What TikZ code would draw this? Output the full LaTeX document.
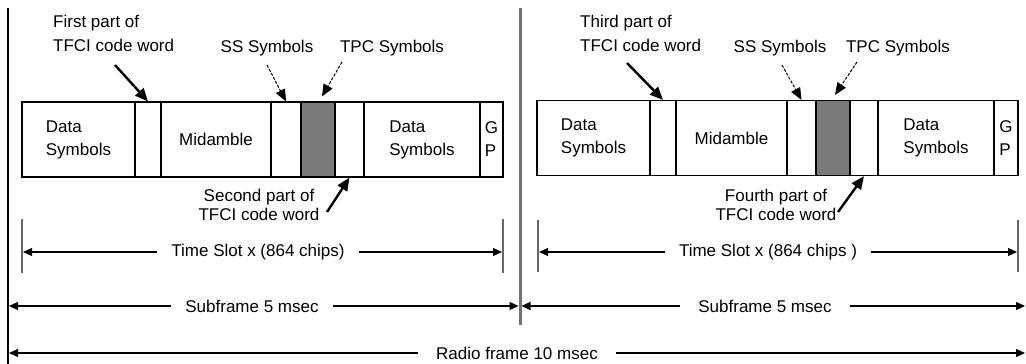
\documentclass[tikz,border=0pt]{standalone}
\usepackage{fontspec}
\setmainfont{Liberation Sans}
\usetikzlibrary{arrows.meta}
\begin{document}
\begin{tikzpicture}[x=1pt,y=-1pt,
  lbl/.style={font=\fontsize{17}{22}\selectfont, inner sep=0pt, align=left},
  cell/.style={draw, line width=1.2pt, inner sep=0pt, align=left,
    font=\fontsize{17}{23}\selectfont, minimum height=75pt},
  shade/.style={fill=black!52},
  bigarrow/.style={line width=2.4pt, -{Triangle[length=13pt,width=11pt]}},
  dasharrow/.style={line width=1pt, dash pattern=on 3pt off 1.5pt, -{Triangle[length=12pt,width=10pt]}},
  dimarrow/.style={line width=1.2pt, -{Triangle[length=9pt,width=8pt]}},
  tickline/.style={draw=black!60, line width=2pt},
  onlbl/.style={lbl, inner xsep=14pt}]
\useasboundingbox (0,0) rectangle (1026,364);

% frame boundary lines
\draw[line width=1.5pt] (8,8) -- (8,364);
\draw[draw=black!55, line width=3pt] (520,8) -- (520,325);

% ---------- left slot ----------
\node[cell, minimum width=113pt] (L1) at (78.5,139.5) {Data\\Symbols};
\node[cell, minimum width=26pt]  (L2) at (148,139.5) {};
\node[cell, minimum width=110pt] (L3) at (216,139.5) {Midamble};
\node[cell, minimum width=30pt]  (L4) at (286,139.5) {};
\node[cell, shade, minimum width=34pt] (L5) at (318,139.5) {};
\node[cell, minimum width=29pt]  (L6) at (349.5,139.5) {};
\node[cell, minimum width=116pt] (L7) at (422,139.5) {Data\\Symbols};
\node[cell, minimum width=23pt]  (L8) at (491.5,139.5) {G\\P};

\node[lbl, font=\fontsize{17}{24}\selectfont, anchor=west] (tfA) at (53,33) {First part of\\TFCI code word};
\node[lbl] (ssA) at (267,48) {SS Symbols};
\node[lbl] (tpcA) at (392,48) {TPC Symbols};
\node[lbl, align=center, font=\fontsize{17}{19}\selectfont] (tfB) at (259,205) {Second part of\\TFCI code word};

\coordinate (tfAs) at (115,65);
\coordinate (ssAs) at (267,65);
\coordinate (tpcAs) at (342,62);
\coordinate (tfBs) at (327,212);
\draw[bigarrow] (tfAs) -- (L2.north);
\draw[dasharrow] (ssAs) -- (L4.north);
\draw[dasharrow] (tpcAs) -- ([xshift=4pt,yshift=5pt]L5.north);
\draw[bigarrow] (tfBs) -- (L6.south);

% time slot left
\draw[tickline] (22,219) -- (22,273);
\draw[tickline] (503,219) -- (503,273);
\coordinate (tsAl) at (23,252);
\coordinate (tsAr) at (502,252);
\node[onlbl] (tsA) at (258,252) {Time Slot x (864 chips)};
\draw[dimarrow] (tsA) -- (tsAl);
\draw[dimarrow] (tsA) -- (tsAr);

% ---------- right slot ----------
\node[cell, minimum width=113pt] (R1) at (593.5,138) {Data\\Symbols};
\node[cell, minimum width=26pt]  (R2) at (663,138) {};
\node[cell, minimum width=111pt] (R3) at (731.5,138) {Midamble};
\node[cell, minimum width=29pt]  (R4) at (801.5,138) {};
\node[cell, shade, minimum width=34pt] (R5) at (833,138) {};
\node[cell, minimum width=28pt]  (R6) at (864,138) {};
\node[cell, minimum width=116pt] (R7) at (936,138) {Data\\Symbols};
\node[cell, minimum width=24pt]  (R8) at (1006,138) {G\\P};

\node[lbl, font=\fontsize{17}{24}\selectfont, anchor=west] (tfC) at (580,33) {Third part of\\TFCI code word};
\node[lbl] (ssC) at (780,48) {SS Symbols};
\node[lbl] (tpcC) at (898,48) {TPC Symbols};
\node[lbl, align=center, font=\fontsize{17}{19}\selectfont] (tfD) at (776,205) {Fourth part of\\TFCI code word};

\coordinate (tfCs) at (627,63);
\coordinate (ssCs) at (782,65);
\coordinate (tpcCs) at (857,62);
\coordinate (tfDs) at (838,212);
\draw[bigarrow] (tfCs) -- (R2.north);
\draw[dasharrow] (ssCs) -- (R4.north);
\draw[dasharrow] (tpcCs) -- ([xshift=2pt,yshift=5pt]R5.north);
\draw[bigarrow] (tfDs) -- (R6.south);

% time slot right
\draw[tickline] (538,220) -- (538,272);
\draw[tickline] (1018,220) -- (1018,272);
\coordinate (tsCl) at (539,252);
\coordinate (tsCr) at (1017,252);
\node[onlbl] (tsC) at (768,252) {Time Slot x (864 chips )};
\draw[dimarrow] (tsC) -- (tsCl);
\draw[dimarrow] (tsC) -- (tsCr);

% ---------- subframes ----------
\coordinate (sfAl) at (9,306);
\coordinate (sfAr) at (518.5,306);
\coordinate (sfCl) at (521.5,306);
\coordinate (sfCr) at (1025,306);
\node[onlbl] (sfA) at (252,306) {Subframe 5 msec};
\node[onlbl, inner xsep=18pt] (sfC) at (765,306) {Subframe 5 msec};
\draw[dimarrow] (sfA) -- (sfAl);
\draw[dimarrow] (sfA) -- (sfAr);
\draw[dimarrow] (sfC) -- (sfCl);
\draw[dimarrow] (sfC) -- (sfCr);

% ---------- radio frame ----------
\coordinate (rfl) at (9,353);
\coordinate (rfr) at (1025,353);
\node[onlbl, inner xsep=18pt] (rf) at (517,353) {Radio frame 10 msec};
\draw[dimarrow] (rf) -- (rfl);
\draw[dimarrow] (rf) -- (rfr);
\end{tikzpicture}
\end{document}
